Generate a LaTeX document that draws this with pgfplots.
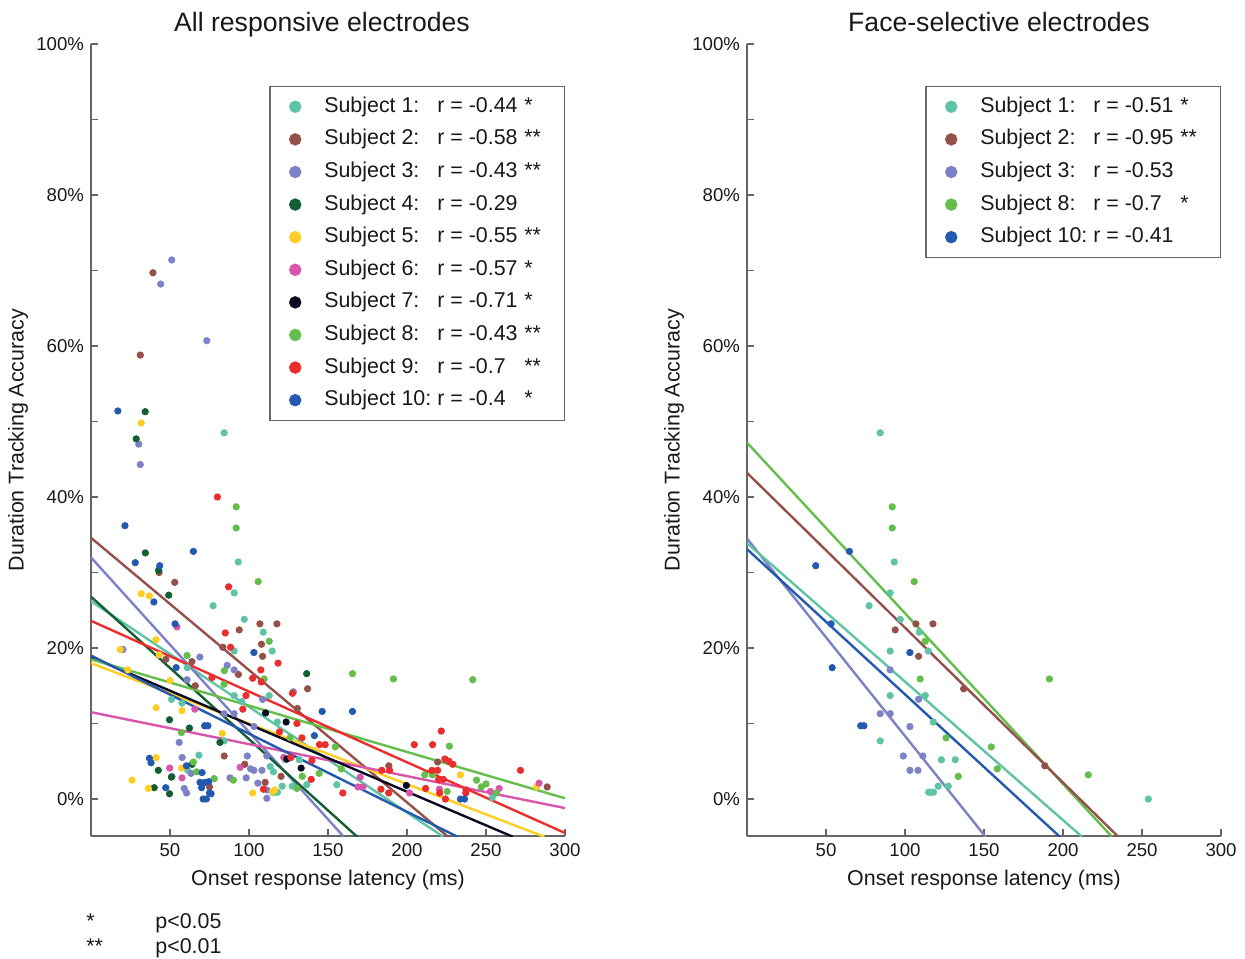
\documentclass[border=0pt]{standalone}
\usepackage{pgfplots}
\pgfplotsset{compat=1.18}
\usepackage{fontspec}
\setmainfont{Liberation Sans}
\definecolor{cA}{HTML}{5FC4A5}
\definecolor{cB}{HTML}{96504A}
\definecolor{cC}{HTML}{7D82C8}
\definecolor{cD}{HTML}{145F32}
\definecolor{cE}{HTML}{FFCD23}
\definecolor{cF}{HTML}{D755AA}
\definecolor{cG}{HTML}{0A0A23}
\definecolor{cH}{HTML}{64BE4B}
\definecolor{cI}{HTML}{EB2D2D}
\definecolor{cJ}{HTML}{235AAF}
\definecolor{axgray}{HTML}{666666}
\newcommand{\leg}[3]{\makebox[56.5pt][l]{#1}\makebox[43.5pt][l]{#2}\makebox[14pt][l]{#3}}
\pgfplotsset{
  panel/.style={
    scale only axis, width=237pt, height=396pt,
    xmin=0, xmax=300, ymin=-4.9, ymax=100,
    axis x line*=bottom, axis y line*=left,
    tick align=inside,
    xtick={50,100,...,300},
    ytick={0,20,...,100},
    minor ytick={10,30,...,90},
    major tick length=3.5pt, minor tick length=3.5pt,
    axis line style={draw=axgray, line width=0.8pt},
    every tick/.style={draw=axgray, line width=0.8pt},
    /pgf/number format/assume math mode=true,
    yticklabel={\pgfmathprintnumber{\tick}\%},
    tick label style={font=\fontsize{9.3}{11}\selectfont, text=black!90},
    every axis title/.style={at={(axis description cs:0.5,1.0164)}, anchor=base, font=\fontsize{13.3}{16}\selectfont, text=black!90},
    every axis x label/.style={at={(axis description cs:0.5,-0.0556)}, anchor=center, font=\fontsize{10.7}{13}\selectfont, text=black!90},
    every axis y label/.style={at={(axis description cs:-0.154,0.5)}, rotate=90, anchor=center, font=\fontsize{10.7}{13}\selectfont, text=black!90},
    xlabel={Onset response latency (ms)},
    ylabel={Duration Tracking Accuracy},
    legend style={at={(axis description cs:1,0.947)}, anchor=north east, draw=axgray, line width=0.7pt, fill=white,
      font=\fontsize{10.7}{12.5}\selectfont, text=black!90, inner xsep=4pt, inner ysep=3pt,
      nodes={inner sep=2pt, text height=7.8pt, text depth=2.3pt}, row sep=2.2pt, column sep=4pt},
    legend cell align=left,
    legend image code/.code={\path[draw=none,fill=none] (0cm,0cm) (0.6cm,0cm); \draw[#1, mark size=2.75pt] plot coordinates {(0.3cm,0cm)};},
  },
  pts/.style={only marks, mark=*, mark size=1.6pt, #1},
  reg/.style={#1, line width=1.2pt, forget plot},
}
\begin{document}
\begin{tikzpicture}
\useasboundingbox (0pt,0pt) rectangle (622.5pt,-479pt);
% ---------------- Left panel ----------------
\begin{axis}[panel, at={(45.5pt,-418pt)}, anchor=south west,
  title={All responsive electrodes}, title style={xshift=-3pt}]
\addplot[pts=cA] coordinates {(84.3,48.5) (93.2,31.4) (90.6,27.3) (77.3,25.6) (97,23.8) (109,22.1) (114.7,19.6) (90.6,19.6) (112.8,13.7) (90.6,13.7) (117.9,10.2) (84.3,7.7) (123,5.2) (131.8,5.2) (121,1.7) (115,0.9) (116.5,0.9) (118,0.9) (127.4,1.7) (254,0.2)
 (61,17.4) (51,13.2) (57.6,12.7) (95.5,12.9) (68.3,5.8) (61.2,3.8) (113.4,4.3) (115.5,3.6) (136.6,1.9) (155.6,1.9)};
\addlegendentry{\leg{Subject 1:}{r = -0.44}{*}}
\addplot[pts=cB] coordinates {(106.9,23.2) (117.7,23.2) (93.8,22.4) (108.6,18.9) (137.1,14.6) (188.5,4.4)
 (39.2,69.7) (31.2,58.8) (43.1,30.0) (53,28.7) (107.9,20.5) (83.4,20.1) (47.4,18.5) (63.9,18.2) (93.3,16.5) (66,15.0) (130.6,12.0) (84.3,5.7) (97.3,4.6) (75,1.6) (120.3,3.0) (110.2,2.2) (219.4,4.9) (288.7,1.6)};
\addlegendentry{\leg{Subject 2:}{r = -0.58}{**}}
\addplot[pts=cC] coordinates {(90.6,17.1) (108.6,13.2) (84.3,11.3) (90.6,11.3) (103.1,9.6) (98.9,5.7) (111.3,5.7) (103.1,3.8) (108.2,3.8)
 (51.1,71.4) (44.1,68.2) (73.3,60.7) (30.2,47.0) (31.2,44.3) (20.2,19.8) (68.9,18.8) (86.2,17.7) (60.8,15.8) (128.1,14.2) (72,9.7) (55.8,7.5) (57.7,5.5) (63.3,3.4) (51.3,3.0) (59,1.4) (60.5,0.8) (88,2.8) (98.2,2.8) (105.6,2.1) (111.3,0.1) (111.3,1.2) (101,4.0)};
\addlegendentry{\leg{Subject 3:}{r = -0.43}{**}}
\addplot[pts=cD] coordinates {(34.3,51.3) (28.6,47.7) (34.4,32.6) (42.8,30.3) (49.2,27.0) (136.5,16.6) (49.7,10.5) (62.3,9.4) (81.6,7.5) (64,4.6) (42.6,3.8) (50.9,2.9) (40,1.5) (49.7,0.7)};
\addlegendentry{\leg{Subject 4:}{r = -0.29}{}}
\addplot[pts=cE] coordinates {(31.8,49.8) (31.8,27.2) (36.9,26.9) (41.2,21.1) (43.2,19.1) (18.5,19.8) (23.3,17.1) (50,15.7) (41.2,12.1) (57.6,11.7) (83.1,8.7) (41.3,5.5) (57.4,4.1) (26,2.5) (36.3,1.4) (102.3,0.8) (115,1.0) (116.2,1.2) (233.8,3.2) (282,1.6)};
\addlegendentry{\leg{Subject 5:}{r = -0.55}{**}}
\addplot[pts=cF] coordinates {(54.4,22.8) (65.7,11.9) (49.8,4.1) (57.6,2.8) (94.4,4.2) (122,5.5) (170.4,2.9) (169,1.6) (172,1.6) (201.6,0.8) (220.5,1.3) (252.8,1.0) (258.3,1.4) (283.6,2.1)};
\addlegendentry{\leg{Subject 6:}{r = -0.57}{*}}
\addplot[pts=cG] coordinates {(110.5,11.4) (123.5,10.2) (124,5.3) (133,4.1) (199.6,1.8)};
\addlegendentry{\leg{Subject 7:}{r = -0.71}{*}}
\addplot[pts=cH] coordinates {(91.9,38.7) (91.9,35.9) (105.8,28.8) (112.8,20.9) (109.6,15.9) (126,8.1) (154.6,6.9) (158.4,4.0) (133.7,3.0) (191.4,15.9) (216,3.2)
 (60.8,19.0) (84.4,17.0) (84.2,15.2) (57.2,8.8) (64.8,4.9) (66.9,3.6) (78,2.7) (90.1,2.5) (130.3,1.4) (144.4,3.4) (165.5,16.6) (241.6,15.8) (226.8,7.0) (211.2,3.2) (225.4,1.0) (244,2.5) (247,1.6) (250,2.0) (256.5,0.8)};
\addlegendentry{\leg{Subject 8:}{r = -0.43}{**}}
\addplot[pts=cI] coordinates {(80,40.0) (87.1,28.1) (85,22.0) (88.3,20.1) (118.4,18.0) (107.5,17.1) (102.3,16.0) (76.6,16.1) (107.7,15.5) (127.5,14.0) (98.1,13.7) (96.1,11.9) (130.3,10.0) (119.3,8.9) (133.5,8.1) (144.6,7.2) (148.2,7.2) (126.5,5.5) (139.8,5.1) (139.4,2.6) (109.1,1.3) (159.4,0.8) (184,3.8) (189,3.8) (183.5,1.3) (188.4,0.8) (204.6,7.2) (216.2,7.2) (221.7,9.0) (224,5.3) (226.5,5.0) (229,4.6) (215.8,3.8) (219.4,3.8) (220,2.6) (223,2.6) (211.8,1.4) (220.7,0.8) (224.3,0.0) (237.2,0.8) (237.4,1.2) (271.8,3.8)};
\addlegendentry{\leg{Subject 9:}{r = -0.7}{**}}
\addplot[pts=cJ] coordinates {(43.5,30.9) (64.8,32.8) (53.2,23.2) (53.9,17.4) (103.1,19.4) (72,9.7) (74,9.7)
 (17,51.4) (21.5,36.2) (28,31.3) (39.8,26.1) (146.3,11.6) (165.5,11.6) (141.4,8.4) (37,5.4) (38,4.8) (60.4,4.4) (70.3,3.5) (69,2.2) (72,2.2) (74.5,2.3) (47.3,1.5) (70,1.5) (75,0.8) (71,0) (73,0) (76,0.7) (233.8,0) (236.4,0)};
\addlegendentry{\leg{Subject 10:}{r = -0.4}{*}}
% regression lines
\addplot[reg=cA] coordinates {(0,26.2) (223,-5)};
\addplot[reg=cB] coordinates {(0,34.6) (226,-5)};
\addplot[reg=cC] coordinates {(0,32.0) (160,-5)};
\addplot[reg=cD] coordinates {(0,26.8) (168.5,-5)};
\addplot[reg=cE] coordinates {(0,18.0) (287,-5)};
\addplot[reg=cF] coordinates {(0,11.5) (300,-1.2)};
\addplot[reg=cG] coordinates {(0,18.8) (267,-5)};
\addplot[reg=cH] coordinates {(0,18.5) (300,0.1)};
\addplot[reg=cI] coordinates {(0,23.6) (300,-4.5)};
\addplot[reg=cJ] coordinates {(0,19.0) (232,-5)};
\end{axis}
% ---------------- Right panel ----------------
\begin{axis}[panel, at={(373.5pt,-418pt)}, anchor=south west,
  title={Face-selective electrodes}, title style={xshift=7.5pt}]
\addplot[pts=cA] coordinates {(84.3,48.5) (93.2,31.4) (90.6,27.3) (77.3,25.6) (97,23.8) (109,22.1) (114.7,19.6) (90.6,19.6) (112.8,13.7) (90.6,13.7) (117.9,10.2) (84.3,7.7) (123,5.2) (131.8,5.2) (121,1.7) (115,0.9) (116.5,0.9) (118,0.9) (127.4,1.7) (254,0)};
\addlegendentry{\leg{Subject 1:}{r = -0.51}{*}}
\addplot[pts=cB] coordinates {(106.9,23.2) (117.7,23.2) (93.8,22.4) (108.6,18.9) (137.1,14.6) (188.5,4.4)};
\addlegendentry{\leg{Subject 2:}{r = -0.95}{**}}
\addplot[pts=cC] coordinates {(90.6,17.1) (108.6,13.2) (84.3,11.3) (90.6,11.3) (103.1,9.6) (98.9,5.7) (111.3,5.7) (103.1,3.8) (108.2,3.8)};
\addlegendentry{\leg{Subject 3:}{r = -0.53}{}}
\addplot[pts=cH] coordinates {(91.9,38.7) (91.9,35.9) (105.8,28.8) (112.8,20.9) (109.6,15.9) (126,8.1) (154.6,6.9) (158.4,4.0) (133.7,3.0) (191.4,15.9) (216,3.2)};
\addlegendentry{\leg{Subject 8:}{r = -0.7}{*}}
\addplot[pts=cJ] coordinates {(43.5,30.9) (64.8,32.8) (53.2,23.2) (53.9,17.4) (103.1,19.4) (72,9.7) (74,9.7)};
\addlegendentry{\leg{Subject 10:}{r = -0.41}{}}
\addplot[reg=cH] coordinates {(0,47.2) (231,-5)};
\addplot[reg=cB] coordinates {(0,43.2) (235,-5)};
\addplot[reg=cC] coordinates {(0,34.5) (151,-5)};
\addplot[reg=cA] coordinates {(0,33.9) (212,-5)};
\addplot[reg=cJ] coordinates {(0,33.1) (198,-5)};
\end{axis}
% ---------------- footnote ----------------
\node[anchor=base west, font=\fontsize{10.7}{13}\selectfont, text=black!90, inner sep=0pt] at (43pt,-464pt) {*};
\node[anchor=base west, font=\fontsize{10.7}{13}\selectfont, text=black!90, inner sep=0pt] at (77.5pt,-464pt) {p<0.05};
\node[anchor=base west, font=\fontsize{10.7}{13}\selectfont, text=black!90, inner sep=0pt] at (43pt,-476.5pt) {**};
\node[anchor=base west, font=\fontsize{10.7}{13}\selectfont, text=black!90, inner sep=0pt] at (77.5pt,-476.5pt) {p<0.01};
\end{tikzpicture}
\end{document}
